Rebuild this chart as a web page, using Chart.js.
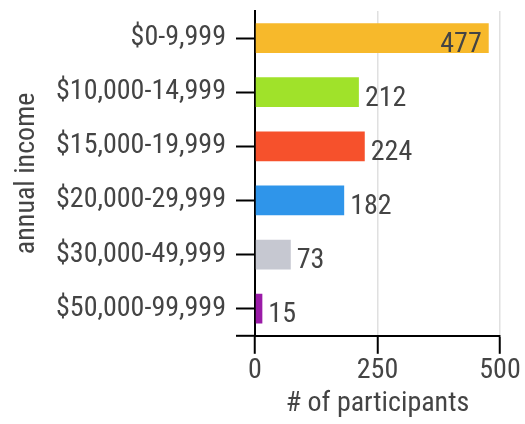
<!DOCTYPE html>
<html><head><meta charset="utf-8">
<script src="https://cdn.jsdelivr.net/npm/chart.js@4"></script>
<style>html,body{margin:0;padding:0;background:#fff}#wrap{width:525px;height:424px}</style>
</head><body><div id="wrap"><canvas id="c"></canvas></div>
<script>
const categories = ['$0-9,999','$10,000-14,999','$15,000-19,999','$20,000-29,999','$30,000-49,999','$50,000-99,999'];
const participants = [477, 212, 224, 182, 73, 15];
const barColors = ['#F7B92B','#A0E22A','#F6512C','#2F95EA','#C6C8D1','#9A1BA7'];
const xTicks = [0, 250, 500];
const xTitle = '# of participants';
const yTitle = 'annual income';

const FONT = '"Roboto Condensed", Roboto, sans-serif';
const TXT = '#444444';

const valueLabels = {
  id: 'valueLabels',
  afterDatasetsDraw(chart) {
    const ctx = chart.ctx;
    const meta = chart.getDatasetMeta(0);
    const right = chart.chartArea.right;
    ctx.save();
    ctx.font = '28px ' + FONT;
    ctx.fillStyle = TXT;
    ctx.textBaseline = 'alphabetic';
    meta.data.forEach((bar, i) => {
      const txt = String(participants[i]);
      const w = ctx.measureText(txt).width;
      if (bar.x + 6 + w > right) {
        ctx.textAlign = 'right';
        ctx.fillText(txt, bar.x - 7, bar.y + 13.5);
      } else {
        ctx.textAlign = 'left';
        ctx.fillText(txt, bar.x + 6, bar.y + 13.5);
      }
    });
    ctx.restore();
  }
};

const cornerTick = {
  id: 'cornerTick',
  afterDraw(chart) {
    const a = chart.chartArea;
    const ctx = chart.ctx;
    const tl = chart.options.scales.y.grid.tickLength;
    ctx.save();
    ctx.strokeStyle = '#000';
    ctx.lineWidth = 2;
    ctx.beginPath();
    ctx.moveTo(a.left - tl, a.bottom);
    ctx.lineTo(a.left, a.bottom);
    ctx.stroke();
    ctx.restore();
  }
};

new Chart(document.getElementById('c'), {
  type: 'bar',
  data: {
    labels: categories,
    datasets: [{
      data: participants,
      backgroundColor: barColors,
      borderWidth: 0,
      categoryPercentage: 1,
      barPercentage: 0.55
    }]
  },
  options: {
    indexAxis: 'y',
    responsive: true,
    maintainAspectRatio: false,
    animation: false,
    layout: { padding: { top: 11, right: 25, left: 10, bottom: 3 } },
    plugins: { legend: { display: false }, tooltip: { enabled: false } },
    scales: {
      x: {
        min: 0, max: 500,
        afterBuildTicks(s) { s.ticks = xTicks.map(v => ({ value: v })); },
        ticks: { color: TXT, font: { family: FONT, size: 28 }, padding: 0, maxRotation: 0 },
        grid: { color: '#E0E0E0', lineWidth: 1.5, tickColor: '#000', tickWidth: 2, tickLength: 18 },
        border: { color: '#000', width: 2 },
        title: { display: true, text: xTitle, color: TXT, font: { family: FONT, size: 28 }, padding: { top: 0, bottom: 0 } }
      },
      y: {
        afterFit(s) { s.paddingTop = 0; s.paddingBottom = 0; },
        ticks: { color: TXT, font: { family: FONT, size: 28 }, padding: 10 },
        grid: { display: true, drawOnChartArea: false, offset: false, tickColor: '#000', tickWidth: 2, tickLength: 19 },
        border: { color: '#000', width: 2 },
        title: { display: true, text: yTitle, color: TXT, font: { family: FONT, size: 28 }, padding: { top: 0, bottom: 4 } }
      }
    }
  },
  plugins: [valueLabels, cornerTick]
});
</script>
</body></html>
